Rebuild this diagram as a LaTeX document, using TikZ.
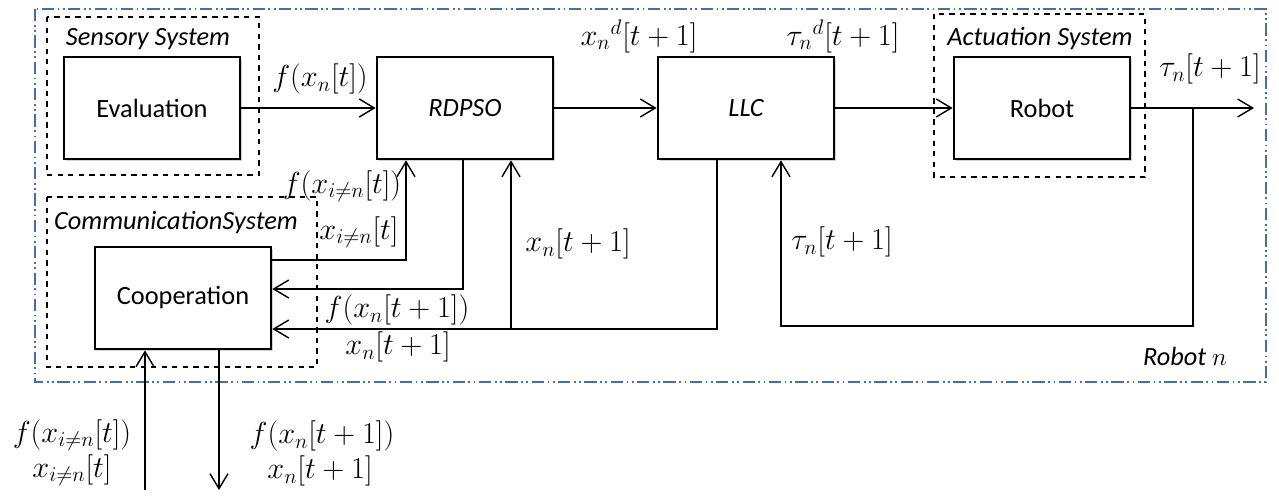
\documentclass[tikz,border=0pt]{standalone}
\usepackage{amsmath,amssymb}
\usepackage{fontspec}
\setmainfont{Carlito}
\usetikzlibrary{arrows.meta,calc,shadows}
\definecolor{AzulRobot}{RGB}{70,110,170}

\tikzset{
  bloque/.style={draw,line width=1.6pt,fill=white,minimum width=3.52cm,minimum height=2.04cm,
    drop shadow={shadow xshift=1.2pt,shadow yshift=-1.2pt,opacity=0.35},
    font=\fontsize{15}{17}\selectfont},
  subsistema/.style={draw,dashed,line width=0.8pt},
  titulo/.style={font=\fontsize{15}{17}\selectfont\itshape},
  senal/.style={inner sep=0pt,font=\fontsize{17.5}{20}\selectfont},
  flecha/.style={line width=0.8pt,-{Straight Barb[length=3mm,width=3.6mm]}},
  linea/.style={line width=0.8pt}
}

\begin{document}
\begin{tikzpicture}[x=0.02cm,y=-0.02cm]
  \useasboundingbox (0,0) rectangle (1279,495);

  % Robot n
  \draw[AzulRobot,line width=0.8pt,dash pattern=on 7pt off 2pt on 1pt off 2pt on 1pt off 2pt]
    (35,9) rectangle (1266,382);
  \node[titulo] (robotn) at (1185,356) {Robot $n$};

  % Subsistemas
  \draw[subsistema] (47,17) rectangle (259,175);
  \node[titulo] (sensorial) at (148,39) {Sensory System};
  \draw[subsistema] (47,197) rectangle (317,367);
  \node[titulo] (comunicacion) at (176,223) {CommunicationSystem};
  \draw[subsistema] (934,14) rectangle (1145,177);
  \node[titulo] (actuacion) at (1040,39) {Actuation System};

  % Bloques
  \node[bloque] (eval) at (152,108) {Evaluation};
  \node[bloque] (rdpso) at (465,108) {\itshape RDPSO};
  \node[bloque] (llc) at (746,108) {\itshape LLC};
  \node[bloque] (robot) at (1042,108) {Robot};
  \node[bloque] (coop) at (183,298) {Cooperation};

  % Cadena directa
  \draw[flecha] (eval) -- (rdpso);
  \node[senal] (fxn) at (320,79) {$f(x_n[t])$};
  \draw[flecha] (rdpso) -- (llc);
  \node[senal] (xnd) at (639,36) {$x_n{}^d[t+1]$};
  \draw[flecha] (llc) -- (robot);
  \node[senal] (taund) at (843,36) {$\tau_n{}^d[t+1]$};
  \coordinate (salida) at (1254,108);
  \draw[flecha] (robot) -- (salida);
  \node[senal] (taun) at (1210,69) {$\tau_n[t+1]$};

  % Realimentacion del robot
  \coordinate (ramaT) at (1193,108);
  \draw[flecha] (ramaT) -- (1193,326) -| ($(llc.south)+(35,0)$);
  \node[senal] (taunb) at (842,242) {$\tau_n[t+1]$};

  % Enlaces con la cooperacion
  \coordinate (cA) at (coop.east |- 0,260);
  \draw[flecha] (cA) -| ($(rdpso.south)+(-59,0)$);
  \node[senal] (fxi) at (342,186) {$f(x_{i\neq n}[t])$};
  \node[senal] (xi) at (359,232) {$x_{i\neq n}[t]$};

  \coordinate (cB) at (coop.east |- 0,289);
  \draw[flecha] ($(rdpso.south)+(-2,0)$) |- (cB);

  \coordinate (cC) at (coop.east |- 0,329);
  \draw[flecha] ($(llc.south)+(-29,0)$) |- (cC);
  \node[senal] (fxn1) at (397,310) {$f(x_n[t+1])$};
  \node[senal] (xn1) at (398,347) {$x_n[t+1]$};

  \coordinate (nudoX) at (511,329);
  \draw[flecha] (nudoX) -- (nudoX |- rdpso.south);
  \node[senal] (xnb) at (578,244) {$x_n[t+1]$};

  % Entradas y salidas externas
  \coordinate (entradaC) at (145,490);
  \draw[flecha] (entradaC) -- (entradaC |- coop.south);
  \node[senal] (fxiE) at (72,435) {$f(x_{i\neq n}[t])$};
  \node[senal] (xiE) at (72,470) {$x_{i\neq n}[t]$};

  \coordinate (salidaC) at (219,490);
  \draw[flecha] (salidaC |- coop.south) -- (salidaC);
  \node[senal] (fxnE) at (322,436) {$f(x_n[t+1])$};
  \node[senal] (xnE) at (320,471) {$x_n[t+1]$};
\end{tikzpicture}
\end{document}
